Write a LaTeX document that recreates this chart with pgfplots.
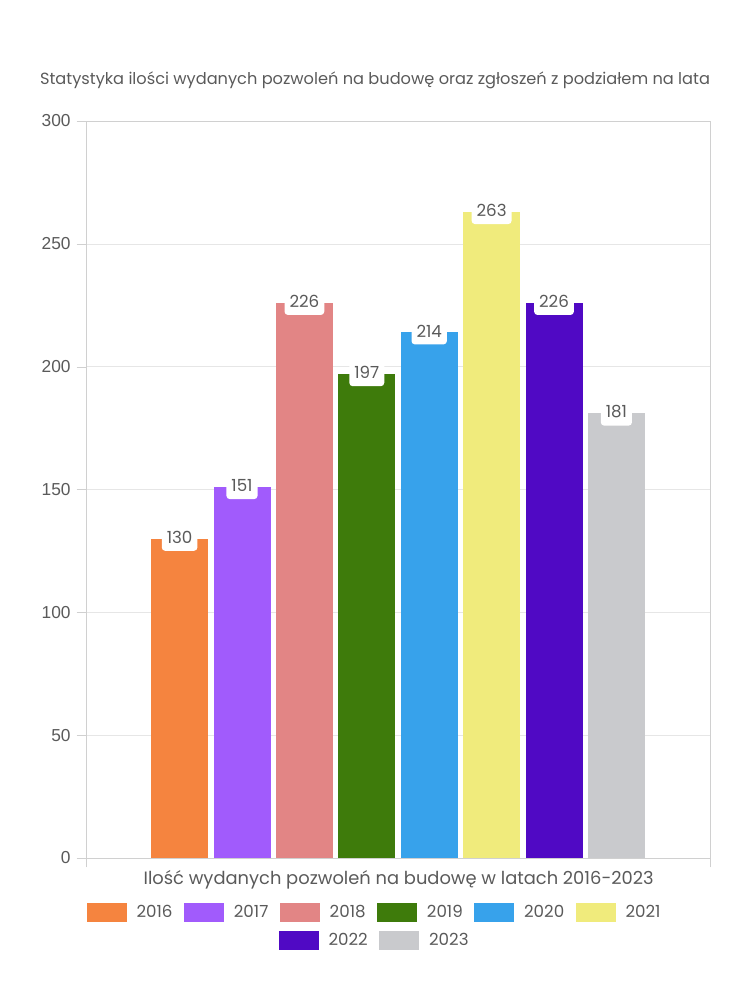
\documentclass[border=0pt]{standalone}
\usepackage{pgfplots}
\pgfplotsset{compat=1.18}
\usepackage{fontspec}
\setmainfont{Poppins}
\newfontfamily\tickfont{Liberation Sans}
\definecolor{c16}{HTML}{F5843F}
\definecolor{c17}{HTML}{A15BFC}
\definecolor{c18}{HTML}{E28585}
\definecolor{c19}{HTML}{3E7B0B}
\definecolor{c20}{HTML}{37A2EB}
\definecolor{c21}{HTML}{F0EB7C}
\definecolor{c22}{HTML}{5009C4}
\definecolor{c23}{HTML}{C9CACD}
\definecolor{txt}{HTML}{5A5A5A}
\definecolor{axl}{HTML}{D0D0D0}
\definecolor{grd}{HTML}{E6E6E6}
\begin{document}
\begin{tikzpicture}
\useasboundingbox (0,0) rectangle (562.5pt,750pt);
\node[font=\fontsize{12.15}{14}\selectfont, text=txt] at (281.25pt,690pt) {Statystyka ilości wydanych pozwoleń na budowę oraz zgłoszeń z podziałem na lata};
\node[font=\fontsize{13.4}{15}\selectfont, text=txt] at (299pt,90pt) {Ilość wydanych pozwoleń na budowę w latach 2016-2023};
\begin{axis}[
  at={(64.5pt,106.5pt)}, anchor=south west,
  scale only axis, width=468pt, height=552.75pt,
  ybar=4.05pt, bar width=42.75pt,
  xmin=-1, xmax=1, ymin=0, ymax=300,
  xtick={-1,1}, xticklabels={,,},
  ytick={0,50,...,300},
  ymajorgrids, grid style={grd},
  axis line style={axl},
  tick style={axl},
  tick align=outside, major tick length=7pt,
  xtick pos=bottom, ytick pos=left,
  yticklabel style={font=\tickfont\fontsize{13}{15}\selectfont, text=txt, xshift=-1pt},
  /pgf/number format/assume math mode=true,
  nodes near coords,
  every node near coord/.append style={anchor=center, yshift=1pt, fill=white, rounded corners=2.5pt, font=\fontsize{12.5}{14}\selectfont, text=txt, inner xsep=3.75pt, inner ysep=5.5pt},
  legend image code/.code={\fill[#1] (0pt,-7pt) rectangle (30pt,7pt);},
  legend style={at={(0.463,-0.057)}, anchor=north, draw=none, fill=none, font=\fontsize{12.5}{14}\selectfont, text=txt,
    legend columns=6, /tikz/every odd column/.append style={column sep=5.5pt}, /tikz/every even column/.append style={column sep=6.5pt}},
]
\addplot[fill=c16, draw=none] coordinates {(0,130)};
\addplot[fill=c17, draw=none] coordinates {(0,151)};
\addplot[fill=c18, draw=none] coordinates {(0,226)};
\addplot[fill=c19, draw=none] coordinates {(0,197)};
\addplot[fill=c20, draw=none] coordinates {(0,214)};
\addplot[fill=c21, draw=none] coordinates {(0,263)};
\addplot[fill=c22, draw=none] coordinates {(0,226)};
\addplot[fill=c23, draw=none] coordinates {(0,181)};
\legend{2016,2017,2018,2019,2020,2021}
\end{axis}
\begin{axis}[
  at={(64.5pt,106.5pt)}, anchor=south west,
  scale only axis, width=468pt, height=552.75pt,
  xmin=-1, xmax=1, ymin=0, ymax=300, hide axis,
  legend image code/.code={\fill[#1] (0pt,-7pt) rectangle (30pt,7pt);},
  legend style={at={(0.463,-0.095)}, anchor=north, draw=none, fill=none, font=\fontsize{12.5}{14}\selectfont, text=txt,
    legend columns=2, /tikz/every odd column/.append style={column sep=5.5pt}, /tikz/every even column/.append style={column sep=6.5pt}},
]
\addlegendimage{fill=c22, draw=none}
\addlegendentry{2022}
\addlegendimage{fill=c23, draw=none}
\addlegendentry{2023}
\end{axis}
\end{tikzpicture}
\end{document}
